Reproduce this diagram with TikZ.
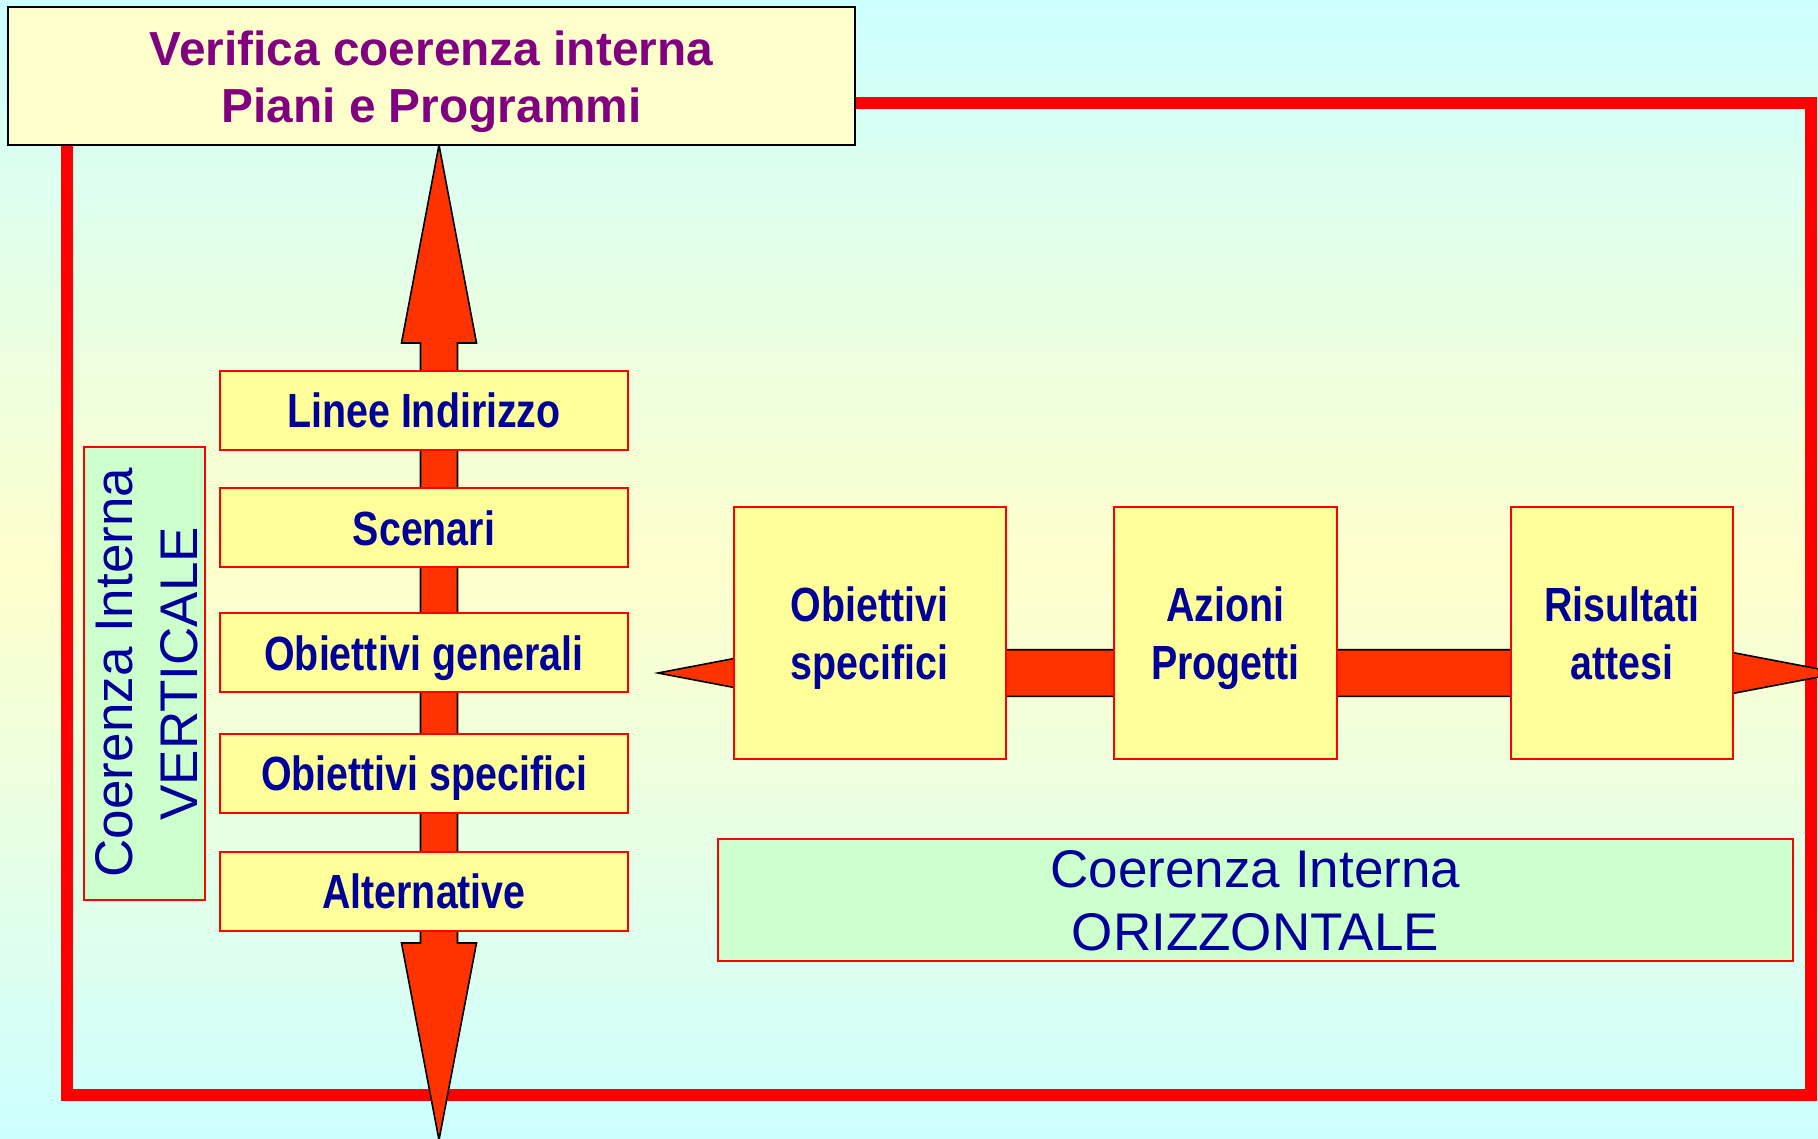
\documentclass[tikz,border=0pt]{standalone}
\usepackage{fontspec}
\setmainfont{Liberation Sans}
\newfontfamily\narrowfont{Liberation Sans}[FakeStretch=0.82]
\definecolor{bgcyan}{HTML}{CCFFFF}
\definecolor{bgyellow}{HTML}{FFFFCC}
\definecolor{boxyellow}{HTML}{FFFF99}
\definecolor{titlefill}{HTML}{FFFFCC}
\definecolor{labelgreen}{HTML}{CCFFCC}
\definecolor{arroworange}{HTML}{FF3300}
\definecolor{navytext}{HTML}{000099}
\definecolor{purpletext}{HTML}{800080}
\begin{document}
\begin{tikzpicture}[x=1pt,y=-1pt,
  frameline/.style={draw=red, line width=11.7pt, line join=miter},
  arrowshape/.style={fill=arroworange, draw=black, line width=1.6pt, line join=miter},
  stepbox/.style={draw=red, fill=boxyellow, line width=2pt, inner sep=0pt, outer sep=0pt},
  labelbox/.style={draw=red, fill=labelgreen, line width=2pt, inner sep=0pt, outer sep=0pt},
  titlebox/.style={draw=black, fill=titlefill, line width=2pt, inner sep=0pt, outer sep=0pt},
  boxtext/.style={font=\narrowfont\bfseries\fontsize{48}{57}\selectfont, text=navytext, inner sep=0pt, anchor=base},
  labeltext/.style={font=\fontsize{53}{63}\selectfont, text=navytext, inner sep=0pt, anchor=base},
  titletext/.style={font=\bfseries\fontsize{47.8}{57}\selectfont, text=purpletext, inner sep=0pt, anchor=base},
]
\useasboundingbox (0,0) rectangle (1818,1139);
\clip (0,0) rectangle (1818,1139);
% background gradient
\shade[top color=bgcyan, bottom color=bgyellow] (0,0) rectangle (1818,571);
\shade[top color=bgyellow, bottom color=bgcyan] (0,570) rectangle (1818,1139);
% red frame
\draw[frameline] (66.7,103) rectangle (1811,1095);
% vertical double arrow
\coordinate (vtop) at (439,145);
\coordinate (vbot) at (439,1140);
\draw[arrowshape] (vtop) -- (476.5,343) -- (457.5,343) -- (457.5,943) -- (476.5,943)
  -- (vbot) -- (401.5,943) -- (420.5,943) -- (420.5,343) -- (401.5,343) -- cycle;
% horizontal double arrow
\coordinate (hleft) at (658,673);
\coordinate (hright) at (1840,673);
\draw[arrowshape] (hleft) -- (903,626.3) -- (903,649.7) -- (1595,649.7) -- (1595,626.3)
  -- (hright) -- (1595,719.7) -- (1595,696.3) -- (903,696.3) -- (903,719.7) -- cycle;
% title box
\node[titlebox, minimum width=847.9pt, minimum height=137.7pt] (title) at (431.45,76.15) {};
\node[titletext] (title1) at (431.5,65.7) {Verifica coerenza interna};
\node[titletext] (title2) at (431.5,122.7) {Piani e Programmi};
% left column boxes
\foreach \n/\y/\t in {b1/410.5/Linee Indirizzo, b2/527.8/Scenari, b3/652.8/Obiettivi generali, b4/773.2/Obiettivi specifici, b5/891/Alternative}{
  \node[stepbox, minimum width=408pt, minimum height=79pt] (\n) at (424,\y) {};
  \node[boxtext] (\n t) at ([yshift=-17.2pt]\n.center) {\t};
}
% vertical label
\node[labelbox, minimum width=121pt, minimum height=453pt] (vlabel) at (144.5,673.5) {};
\node[labeltext, rotate=90] (vlabel1) at (132.7,672.5) {Coerenza Interna};
\node[labeltext, rotate=90] (vlabel2) at (197.8,673.7) {VERTICALE};
% right boxes
\node[stepbox, minimum width=272pt, minimum height=252.3pt] (r1) at (869.6,632.85) {};
\node[stepbox, minimum width=222.2pt, minimum height=252.3pt] (r2) at (1225.5,632.85) {};
\node[stepbox, minimum width=222.3pt, minimum height=252.3pt] (r3) at (1621.75,632.85) {};
\node[boxtext] (r1a) at (869.6,621.7) {Obiettivi};
\node[boxtext] (r1b) at (869.6,679) {specifici};
\node[boxtext] (r2a) at (1225.5,621.7) {Azioni};
\node[boxtext] (r2b) at (1225.5,679) {Progetti};
\node[boxtext] (r3a) at (1621.75,621.7) {Risultati};
\node[boxtext] (r3b) at (1621.75,679) {attesi};
% horizontal label
\node[labelbox, minimum width=1075.2pt, minimum height=122pt] (hlabel) at (1255.4,900) {};
\node[labeltext] (hlabel1) at (1255.4,887.7) {Coerenza Interna};
\node[labeltext] (hlabel2) at (1255.4,950.7) {ORIZZONTALE};
\end{tikzpicture}
\end{document}
